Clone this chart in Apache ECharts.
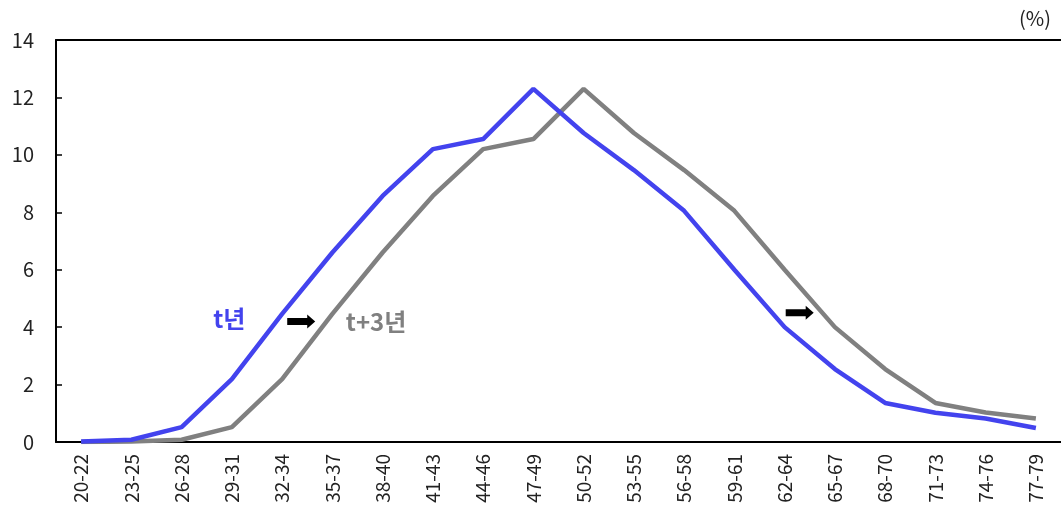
<!DOCTYPE html>
<html>
<head>
<meta charset="utf-8">
<script src="https://cdn.jsdelivr.net/npm/echarts@6/dist/echarts.min.js"></script>
<style>
  html, body { margin: 0; padding: 0; background: #fff; }
  #chart { width: 1061px; height: 518px; }
</style>
</head>
<body>
<div id="chart"></div>
<script>
// Age bands (years)
const ageBands = ['20-22','23-25','26-28','29-31','32-34','35-37','38-40','41-43','44-46','47-49',
                  '50-52','53-55','56-58','59-61','62-64','65-67','68-70','71-73','74-76','77-79'];
// Share by age band in year t (%)
const yearT = [0.02, 0.08, 0.52, 2.19, 4.46, 6.6, 8.57, 10.2, 10.55, 12.3,
               10.76, 9.47, 8.05, 6.0, 4.0, 2.54, 1.36, 1.02, 0.82, 0.49];
// Share by age band in year t+3 (%)
const yearT3 = [0.0, 0.02, 0.08, 0.52, 2.19, 4.46, 6.6, 8.57, 10.2, 10.55,
                12.3, 10.76, 9.47, 8.05, 6.0, 4.0, 2.54, 1.36, 1.03, 0.82];
const yTicks = [0, 2, 4, 6, 8, 10, 12, 14];

const seriesNames = ['t년', 't+3년'];
const unitLabel = '(%)';
const BLUE = '#4343EE';
const GRAY = '#808080';
const FONT = '"Noto Sans CJK KR", "Noto Sans", sans-serif';

const chart = echarts.init(document.getElementById('chart'));
chart.setOption({
  animation: false,
  grid: { left: 56, right: -1, top: 40, bottom: 76 },
  xAxis: [{
    type: 'category',
    data: ageBands,
    boundaryGap: true,
    axisLine: { lineStyle: { color: '#000', width: 2 } },
    axisTick: { show: false },
    axisLabel: { rotate: 90, margin: 12, fontSize: 19, color: '#222', fontFamily: FONT }
  }, {
    type: 'category',
    position: 'top',
    data: ageBands,
    axisLine: { show: true, onZero: false, lineStyle: { color: '#000', width: 2 } },
    axisTick: { show: false },
    axisLabel: { show: false }
  }],
  yAxis: {
    type: 'value',
    min: yTicks[0],
    max: yTicks[yTicks.length - 1],
    interval: 2,
    axisLine: { show: true, lineStyle: { color: '#000', width: 2 } },
    axisTick: { show: true, inside: true, length: 6, lineStyle: { color: '#000', width: 1.5 } },
    splitLine: { show: false },
    axisLabel: { fontSize: 20, color: '#222', margin: 22, fontFamily: FONT }
  },
  series: [{
    name: seriesNames[0],
    type: 'line',
    data: yearT,
    symbol: 'none',
    lineStyle: { color: BLUE, width: 4.5 },
    z: 3
  }, {
    name: seriesNames[1],
    type: 'line',
    data: yearT3,
    symbol: 'none',
    lineStyle: { color: GRAY, width: 4.5 },
    z: 2
  }]
});

// Series labels and shift arrows, positioned in data space
function arrowAt(catIdx, frac, val) {
  const a = chart.convertToPixel({ xAxisIndex: 0, yAxisIndex: 0 }, [ageBands[catIdx], val]);
  const b = chart.convertToPixel({ xAxisIndex: 0, yAxisIndex: 0 }, [ageBands[catIdx + 1], val]);
  const x = a[0] + (b[0] - a[0]) * frac;
  const y = a[1];
  return {
    type: 'polygon',
    shape: { points: [[x - 14, y - 3.5], [x + 6, y - 3.5], [x + 6, y - 7], [x + 14, y], [x + 6, y + 7], [x + 6, y + 3.5], [x - 14, y + 3.5]] },
    style: { fill: '#000' },
    z: 10
  };
}
function labelAt(catIdx, frac, val, text, color) {
  const a = chart.convertToPixel({ xAxisIndex: 0, yAxisIndex: 0 }, [ageBands[catIdx], val]);
  const b = chart.convertToPixel({ xAxisIndex: 0, yAxisIndex: 0 }, [ageBands[catIdx + 1], val]);
  return {
    type: 'text',
    x: a[0] + (b[0] - a[0]) * frac,
    y: a[1],
    style: { text: text, fill: color, font: '600 24px ' + FONT, textAlign: 'center', textVerticalAlign: 'middle' },
    z: 10
  };
}
chart.setOption({
  graphic: [
    labelAt(2, 0.95, 4.3, seriesNames[0], BLUE),
    arrowAt(4, 0.38, 4.2),
    labelAt(6, -0.13, 4.2, seriesNames[1], GRAY),
    arrowAt(14, 0.3, 4.5),
    {
      type: 'text',
      right: 10,
      top: 8,
      style: { text: unitLabel, fill: '#222', font: '20px ' + FONT },
      z: 10
    }
  ]
});
</script>
</body>
</html>
